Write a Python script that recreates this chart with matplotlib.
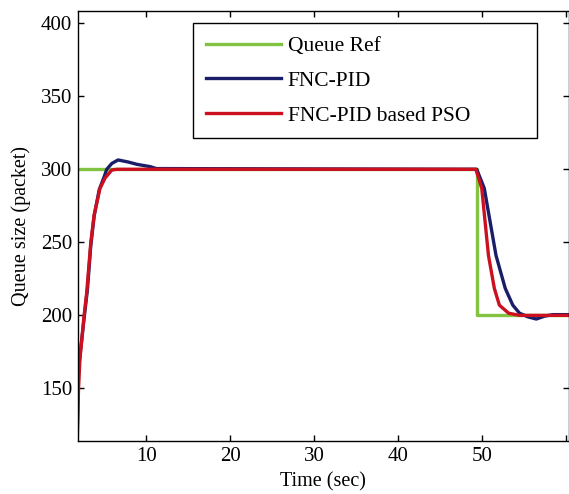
import matplotlib
matplotlib.use('Agg')
import matplotlib.pyplot as plt

plt.rcParams['font.family'] = ['Liberation Serif', 'DejaVu Serif']

# Queue reference
ref_t = [1.8, 49.4, 49.4, 60.5]
ref_q = [300, 300, 200, 200]

# FNC-PID
pid_t = [1.8, 1.9, 2.1, 2.6, 3.0, 3.4, 3.8, 4.4, 5.0, 5.3, 5.9, 6.65, 7.85, 8.9, 10.5, 11.2,
         49.4, 50.3, 51.0, 51.7, 52.8, 53.7, 54.5, 55.5, 56.5, 57.5, 58.5, 60.5]
pid_q = [125, 160, 172, 198, 218, 248, 268, 286, 295, 300, 304, 306.4, 305, 303.4, 301.8, 300.5,
         300, 287, 264, 241, 218.5, 207, 201.5, 199, 197.5, 199.5, 200.5, 200.5]

# FNC-PID based PSO
pso_t = [1.8, 1.93, 2.1, 2.6, 2.9, 3.4, 3.8, 4.5, 5.1, 5.9, 6.5,
         49.3, 50.0, 50.4, 50.8, 51.5, 52.1, 53.2, 54.5, 60.5]
pso_q = [118, 149, 170, 200, 215, 250, 269, 287, 294, 299.5, 300,
         300, 287, 264, 241, 218.5, 207, 201.5, 200, 200]

xticks = [10, 20, 30, 40, 50, 60]
xticklabels = ['10', '20', '30', '40', '50', '']
yticks = [150, 200, 250, 300, 350, 400]

fig = plt.figure(figsize=(5.69, 4.94), dpi=100)
ax = fig.add_axes([0.1366, 0.1073, 0.8634, 0.8711])

ax.plot(ref_t, ref_q, color='#82c341', lw=2.4, label='Queue Ref')
ax.plot(pid_t, pid_q, color='#1a1d68', lw=2.4, label='FNC-PID')
ax.plot(pso_t, pso_q, color='#cc1020', lw=2.4, label='FNC-PID based PSO')

ax.set_xlim(1.84, 60.4)
ax.set_ylim(114, 408.6)
ax.set_xticks(xticks)
ax.set_xticklabels(xticklabels)
ax.set_yticks(yticks)
ax.tick_params(direction='in', top=True, right=True, length=4, width=1, labelsize=15, pad=4)
for s in ax.spines.values():
    s.set_linewidth(1.0)

ax.set_xlabel('Time (sec)', fontsize=14.5, labelpad=5)
ax.set_ylabel('Queue size (packet)', fontsize=14.5, labelpad=7)

leg = ax.legend(loc='upper left', bbox_to_anchor=(0.2347, 0.7065, 0.7003, 0.2645), mode='expand',
                borderaxespad=0, fancybox=False, edgecolor='black', framealpha=1,
                fontsize=15.5, handlelength=3.5, handletextpad=0.3, labelspacing=0.68, borderpad=0.6)
leg.get_frame().set_linewidth(1.0)

fig.savefig('out.png', dpi=100)
